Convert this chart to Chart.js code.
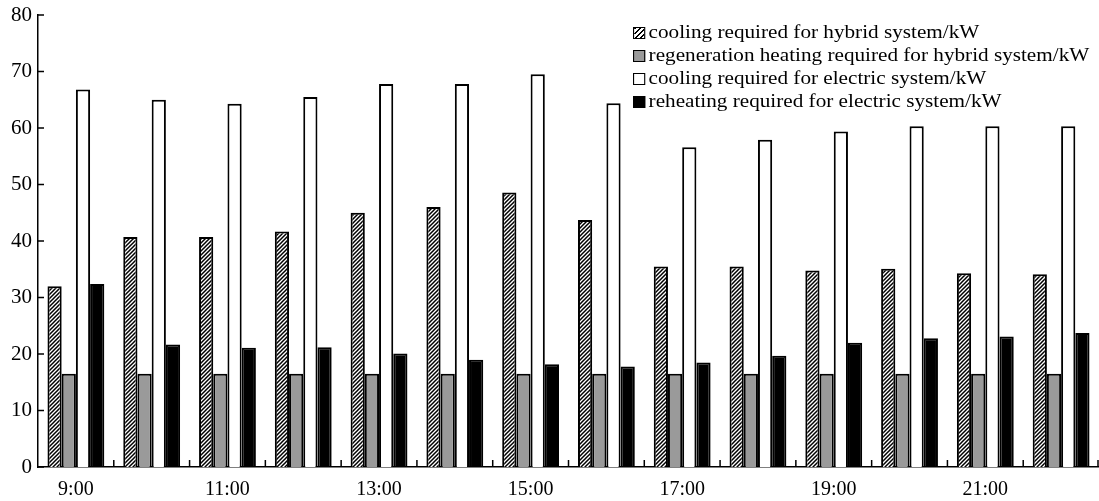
<!DOCTYPE html>
<html>
<head>
<meta charset="utf-8">
<script src="https://cdn.jsdelivr.net/npm/chart.js@4"></script>
<style>
  html, body { margin: 0; padding: 0; background: #fff; }
  .wrap { position: relative; width: 1099px; height: 501px; }
  #legend { position: absolute; left: 633px; top: 22px; font-family: "Liberation Serif", serif; font-size: 19px; color: #000; transform: scaleX(1.115); transform-origin: left top; }
  #legend div { height: 23px; line-height: 20px; white-space: nowrap; }
  #legend span.box { display: inline-block; width: 9px; height: 10px; border: 1.7px solid #000; margin-right: 3px; vertical-align: -1px; }
</style>
</head>
<body>
<div class="wrap">
  <canvas id="myChart" width="1099" height="501"></canvas>
  <div id="legend"></div>
</div>
<script>
let hours = ['9:00', '10:00', '11:00', '12:00', '13:00', '14:00', '15:00', '16:00', '17:00', '18:00', '19:00', '20:00', '21:00', '22:00'];
let hybridCooling = [32.0, 40.7, 40.7, 41.7, 45.0, 46.0, 48.6, 43.7, 35.5, 35.5, 34.8, 35.1, 34.3, 34.1];
let hybridRegen = [16.5, 16.5, 16.5, 16.5, 16.5, 16.5, 16.5, 16.5, 16.5, 16.5, 16.5, 16.5, 16.5, 16.5];
let electricCooling = [66.8, 65.0, 64.3, 65.5, 67.8, 67.8, 69.5, 64.4, 56.6, 57.9, 59.4, 60.3, 60.3, 60.3];
let electricReheat = [32.4, 21.7, 21.1, 21.2, 20.1, 19.0, 18.2, 17.8, 18.5, 19.7, 22.0, 22.8, 23.1, 23.7];
let seriesNames = [
  'cooling required for hybrid system/kW',
  'regeneration heating required for hybrid system/kW',
  'cooling required for electric system/kW',
  'reheating required for electric system/kW'
];

// hatch pattern "////"
let pc = document.createElement('canvas');
pc.width = 4; pc.height = 4;
let px = pc.getContext('2d');
px.fillStyle = '#fff';
px.fillRect(0, 0, 4, 4);
px.strokeStyle = '#000';
px.lineWidth = 1.5;
px.beginPath();
px.moveTo(-1, 5); px.lineTo(5, -1);
px.moveTo(-1, 1); px.lineTo(1, -1);
px.moveTo(3, 5); px.lineTo(5, 3);
px.stroke();
let ctx = document.getElementById('myChart').getContext('2d');
let hatch = ctx.createPattern(pc, 'repeat');

let fills = [hatch, '#9a9a9a', '#ffffff', '#000000'];
let cssFills = [
  'repeating-linear-gradient(135deg, #000 0 1.3px, #fff 1.3px 3.5px)',
  '#9a9a9a', '#fff', '#000'
];

let legend = document.getElementById('legend');
seriesNames.forEach(function(n, i) {
  let row = document.createElement('div');
  let b = document.createElement('span');
  b.className = 'box';
  b.style.background = cssFills[i];
  row.appendChild(b);
  row.appendChild(document.createTextNode(n));
  legend.appendChild(row);
});

// inward tick marks on both axes
let innerTicks = {
  id: 'innerTicks',
  afterDraw(chart) {
    let c = chart.ctx, xs = chart.scales.x, ys = chart.scales.y, a = chart.chartArea;
    c.save();
    c.strokeStyle = '#000';
    c.lineWidth = 1.5;
    c.beginPath();
    ys.ticks.forEach(function(t) {
      let y = ys.getPixelForValue(t.value);
      c.moveTo(a.left, y); c.lineTo(a.left + 6, y);
    });
    for (let i = 1; i <= hours.length; i++) {
      let x = i < hours.length ? (xs.getPixelForValue(i - 1) + xs.getPixelForValue(i)) / 2 : a.right - 1;
      c.moveTo(x, a.bottom); c.lineTo(x, a.bottom - 7);
    }
    c.stroke();
    c.restore();
  }
};

let data = [hybridCooling, hybridRegen, electricCooling, electricReheat];
new Chart(ctx, {
  type: 'bar',
  data: {
    labels: hours,
    datasets: data.map(function(d, i) {
      return {
        label: seriesNames[i],
        data: d,
        backgroundColor: fills[i],
        borderColor: '#000',
        borderWidth: 2,
        barPercentage: 1,
        categoryPercentage: 0.75
      };
    })
  },
  options: {
    responsive: false,
    animation: false,
    layout: { padding: { top: 15, right: 0, left: 0, bottom: 0 } },
    plugins: { legend: { display: false }, tooltip: { enabled: false } },
    scales: {
      x: {
        grid: { display: false, drawTicks: false },
        border: { display: true, color: '#000', width: 1.5 },
        afterFit: function(s) { s.height = 34; },
        ticks: {
          color: '#000',
          font: { family: 'Liberation Serif', size: 20 },
          maxRotation: 0,
          autoSkip: false,
          padding: 11,
          callback: function(v, i) { return i % 2 === 0 ? hours[i] : ''; }
        }
      },
      y: {
        min: 0,
        max: 80,
        grid: { display: false, drawTicks: false },
        border: { display: true, color: '#000', width: 1.5 },
        afterFit: function(s) { s.width = 38; s.paddingTop = 0; s.paddingBottom = 0; },
        ticks: {
          stepSize: 10,
          color: '#000',
          padding: 6,
          font: { family: 'Liberation Serif', size: 21, lineHeight: 1 }
        }
      }
    }
  },
  plugins: [innerTicks]
});
</script>
</body>
</html>
